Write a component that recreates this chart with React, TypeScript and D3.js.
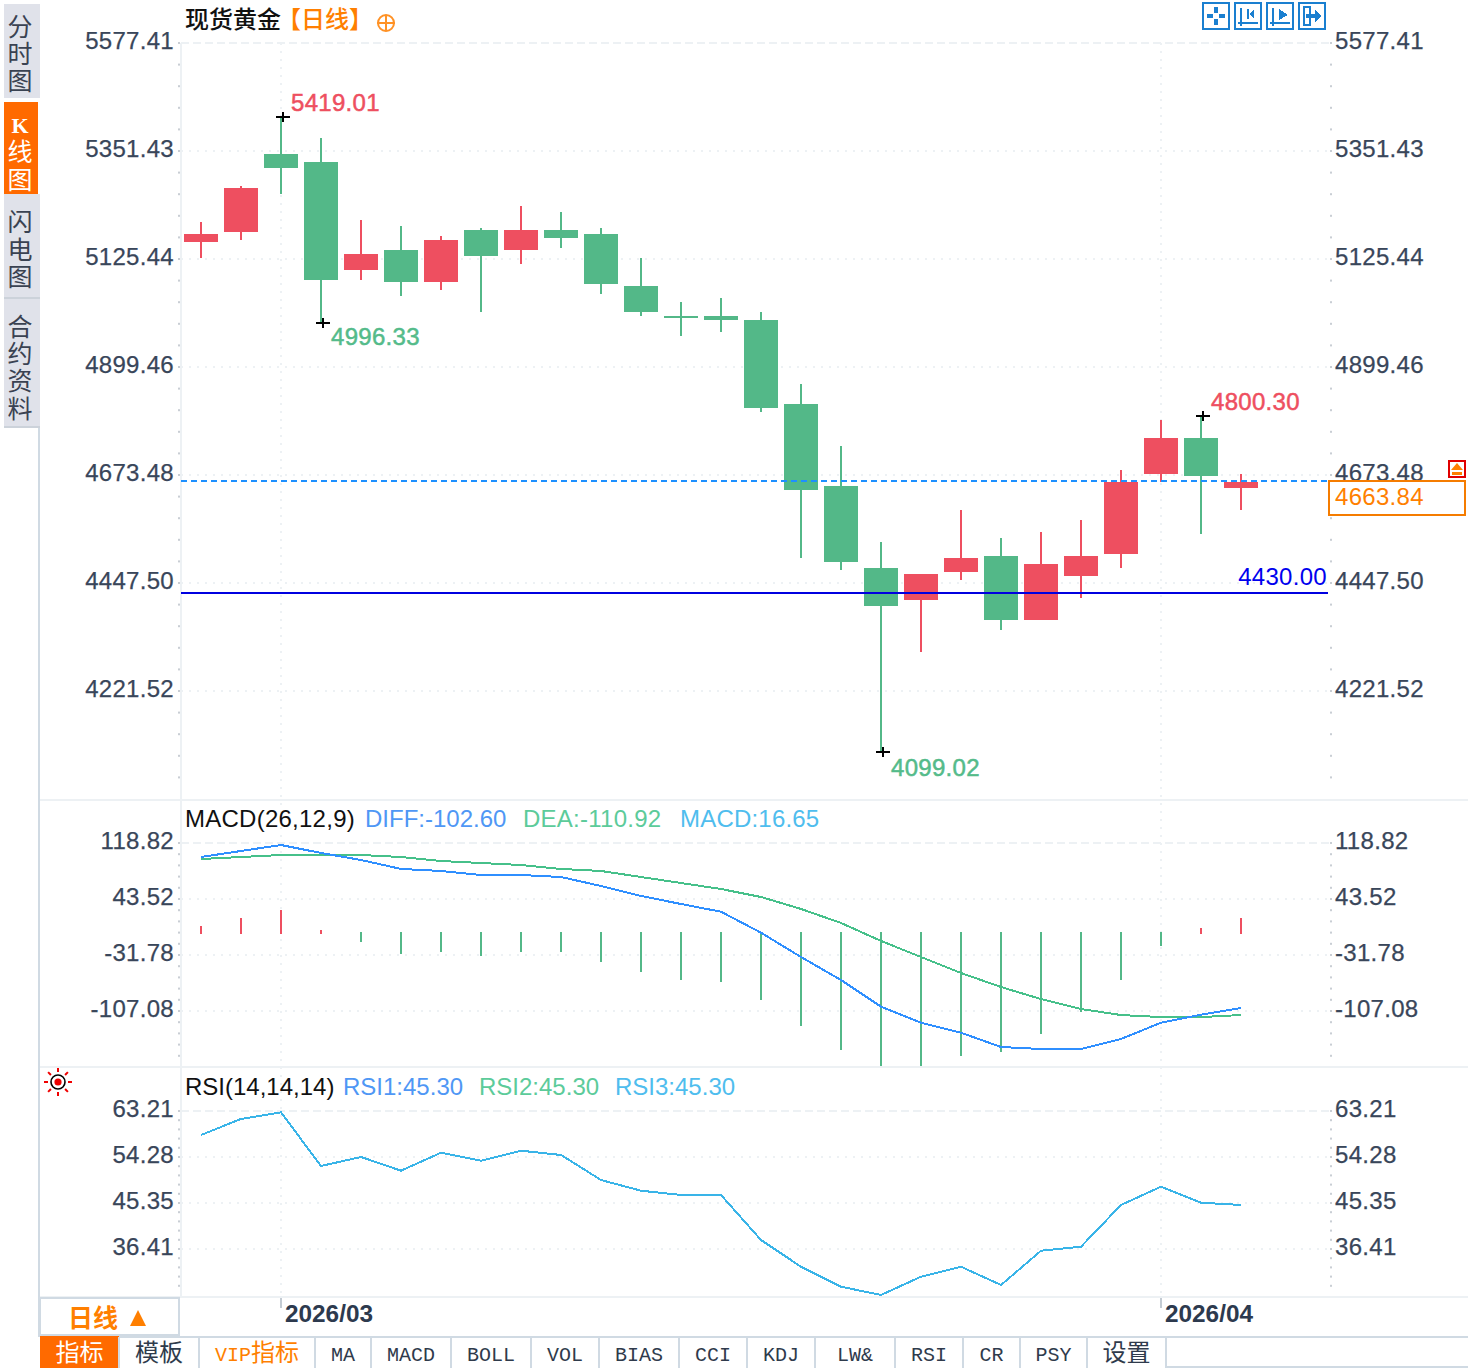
import React from "react";
import * as d3 from "d3";

const W = 1468, H = 1368;
const SANS = "'Liberation Sans', Arial, sans-serif";
const CJK = "'Noto Sans CJK SC', sans-serif";
const MONO = "'Liberation Mono', monospace";

const opens = [5161.02,5181.95,5345.15,5328.41,5102.44,5144.28,5077.33,5186.13,5144.28,5186.13,5177.76,5068.96,5006.18,5006.18,4997.82,4822.05,4650.48,4478.90,4411.94,4470.53,4504.01,4370.10,4462.16,4508.19,4675.59,4750.91,4646.29];
const closes = [5177.76,5274.01,5315.86,5081.51,5135.91,5077.33,5165.21,5131.73,5186.13,5169.39,5073.14,5014.55,5002.00,4997.82,4813.68,4642.11,4491.45,4399.39,4466.35,4499.82,4370.10,4487.27,4504.01,4658.85,4750.91,4671.40,4658.85];
const highs = [5202.87,5278.20,5422.57,5378.63,5207.06,5194.50,5173.58,5190.32,5236.35,5223.79,5190.32,5127.54,5035.48,5043.85,5014.55,4863.90,4734.17,4533.30,4466.35,4600.26,4541.67,4554.23,4579.34,4683.96,4788.58,4796.94,4675.59];
const lows = [5127.54,5165.21,5261.46,4991.54,5081.51,5048.03,5060.59,5014.55,5114.99,5148.47,5052.22,5006.18,4964.34,4972.71,4805.31,4499.82,4474.72,4093.90,4303.14,4453.79,4349.17,4370.10,4416.13,4478.90,4658.85,4550.04,4600.26];

const diffValues = [100.0,108.1,116.1,105.4,96.0,83.9,81.2,75.8,75.8,73.1,61.0,47.6,36.8,26.4,-1.8,-34.5,-65.4,-101.3,-122.8,-136.3,-155.5,-158.2,-158.2,-144.7,-122.8,-112.1,-103.0];
const deaValues = [97.3,100.0,102.7,102.7,102.7,100.0,94.6,91.9,89.2,83.9,81.2,73.1,65.0,57.0,46.2,30.1,11.3,-12.9,-34.5,-56.0,-74.8,-91.0,-104.4,-112.5,-115.2,-115.2,-112.5];
const histValues = [7.3,18.0,28.8,1.9,-14.3,-30.4,-27.7,-33.1,-27.7,-27.7,-41.1,-54.6,-65.3,-68.0,-92.2,-127.2,-159.5,-181.0,-181.0,-167.5,-162.2,-138.0,-108.4,-65.3,-19.6,4.6,18.0];
const rsiValues = [58.55,61.66,62.96,52.53,54.28,51.62,55.11,53.56,55.5,54.67,49.81,47.73,46.9,46.9,38.16,32.97,29.09,27.48,31.03,32.97,29.42,36.08,36.86,44.96,48.51,45.4,44.96];

const priceTicks = ["5577.41","5351.43","5125.44","4899.46","4673.48","4447.50","4221.52"];
const macdTicks = ["118.82","43.52","-31.78","-107.08"];
const rsiTicks = ["63.21","54.28","45.35","36.41"];

const lastPrice = 4663.84;
const refPrice = 4430.0;
const extremes = [
  { text: "5419.01", idx: 2, kind: "high", dx: 10, dy: -6, color: "#ee4f60" },
  { text: "4996.33", idx: 3, kind: "low", dx: 10, dy: 22, color: "#54bb8a" },
  { text: "4099.02", idx: 17, kind: "low", dx: 10, dy: 24, color: "#54bb8a" },
  { text: "4800.30", idx: 25, kind: "high", dx: 10, dy: -6, color: "#ee4f60" },
];
const sideTabs = [
  { chars: ["分", "时", "图"], ys: [27, 54, 81], active: false },
  { chars: ["K", "线", "图"], ys: [124, 152, 180], active: true },
  { chars: ["闪", "电", "图"], ys: [222, 250, 277], active: false },
  { chars: ["合", "约", "资", "料"], ys: [327, 354, 381, 409], active: false },
];
const sideTabRanges = [[4, 98], [102, 194], [194, 298], [298, 428]];
const bottomTabs = ["指标","模板","VIP指标","MA","MACD","BOLL","VOL","BIAS","CCI","KDJ","LW&","RSI","CR","PSY","设置"];
const bottomSeps = [40,119,199,315,371,451,531,599,679,747,815,895,963,1020,1087,1166];
const dateLabels = [{ text: "2026/03", idx: 2 }, { text: "2026/04", idx: 24 }];

const RED = "#ee4f60", GREEN = "#53b888", GRID = "#edf1f4", AXIS = "#39465a", LINE = "#d0dae3", ORANGE = "#ff7f00";

const x = d3.scaleLinear().domain([0, opens.length - 1]).range([201, 1241]);
const py = d3.scaleLinear().domain([5577.41, 4221.52]).range([43, 691]);
const my = d3.scaleLinear().domain([118.82, -107.08]).range([843, 1011]);
const ry = d3.scaleLinear().domain([63.21, 36.41]).range([1111, 1249]);

const mLine = d3.line<number>().x((_, i) => x(i)).y((d) => my(d));
const rLine = d3.line<number>().x((_, i) => x(i)).y((d) => ry(d));

function TickSet({ labels, y, minorStep, minorEnd }: { labels: string[]; y: d3.ScaleLinear<number, number>; minorStep: number; minorEnd: number }) {
  const vals = labels.map(Number);
  const top = y(vals[0]);
  const minors = d3.range(top, minorEnd, minorStep);
  return (
    <g>
      {vals.map((v, i) => (
        <line key={i} x1={181} x2={1330} y1={y(v)} y2={y(v)} stroke={GRID} strokeWidth={2}
          strokeDasharray={i === 0 ? "8 4" : "2 6"} />
      ))}
      {minors.map((m, i) => (
        <g key={i}>
          <rect x={178} y={m - 1} width={2} height={2} fill="#c9ced4" />
          <rect x={1330} y={m - 1} width={2} height={2} fill="#c9ced4" />
        </g>
      ))}
      {labels.map((t, i) => (
        <g key={t} fontFamily={SANS} fontSize={24} fill={AXIS} stroke={AXIS} strokeWidth={0.25} letterSpacing={0.3}>
          <text x={174} y={y(vals[i]) + 6} textAnchor="end">{t}</text>
          <text x={1335} y={y(vals[i]) + 6}>{t}</text>
        </g>
      ))}
    </g>
  );
}

function Plus({ cx, cy }: { cx: number; cy: number }) {
  return (
    <g stroke="#000" strokeWidth={2} shapeRendering="crispEdges">
      <line x1={cx - 7} x2={cx + 7} y1={cy} y2={cy} />
      <line x1={cx} x2={cx} y1={cy - 5} y2={cy + 5} />
    </g>
  );
}

function TopIcons() {
  const B = "#1a7fd0";
  const xs = [1203, 1235, 1267, 1299];
  return (
    <g shapeRendering="crispEdges">
      {xs.map((v) => (
        <rect key={v} x={v} y={3} width={26} height={26} fill="#fff" stroke={B} strokeWidth={2} />
      ))}
      <g fill={B}>
        <rect x={1214} y={7} width={4} height={6} /><rect x={1214} y={19} width={4} height={6} />
        <rect x={1207} y={14} width={6} height={4} /><rect x={1219} y={14} width={6} height={4} />
        <rect x={1240} y={8} width={2} height={18} /><rect x={1238} y={22} width={20} height={2} />
        <rect x={1247} y={9} width={2} height={10} /><polygon points="1254,9 1249,14 1254,19" />
        <rect x={1272} y={8} width={2} height={18} /><rect x={1270} y={22} width={20} height={2} />
        <polygon points="1279,9 1288,15 1279,20" />
        <rect x={1303} y={6} width={2} height={20} /><rect x={1303} y={6} width={7} height={2} /><rect x={1303} y={24} width={7} height={2} /><rect x={1309} y={6} width={2} height={20} />
        <rect x={1306} y={14} width={12} height={4} /><polygon points="1315,10 1322,16 1315,22" />
      </g>
    </g>
  );
}

export default function App() {
  return (
    <svg width={W} height={H} viewBox={`0 0 ${W} ${H}`} style={{ position: "absolute", left: 0, top: 0, background: "#fff" }}>
      {/* side tabs */}
      {sideTabs.map((t, i) => (
        <g key={i}>
          <rect x={4} y={sideTabRanges[i][0]} width={t.active ? 34 : 36} height={sideTabRanges[i][1] - sideTabRanges[i][0]} fill={t.active ? "#ff6a00" : "#e0e2ea"} />
          {t.chars.map((c, j) => (
            <text key={j} x={20} y={t.ys[j] + 9} textAnchor="middle" fontSize={c === "K" ? 22 : 25}
              fontFamily={c === "K" ? "'Liberation Serif', serif" : CJK} fontWeight={c === "K" ? 700 : 400} fill={t.active ? "#fff" : "#3a4252"}>{c}</text>
          ))}
        </g>
      ))}
      <rect x={4} y={297} width={36} height={2} fill="#ccd2da" />
      <rect x={4} y={426} width={36} height={2} fill="#ccd2da" />

      {/* frame */}
      <line x1={39} x2={39} y1={428} y2={1337} stroke={LINE} strokeWidth={2} />
      <line x1={181} x2={181} y1={43} y2={1297} stroke={GRID} strokeWidth={2} />
      {[800, 1067, 1297].map((v) => (
        <line key={v} x1={40} x2={W} y1={v} y2={v} stroke={GRID} strokeWidth={2} />
      ))}
      {dateLabels.map((d) => (
        <line key={d.text} x1={x(d.idx)} x2={x(d.idx)} y1={43} y2={1297} stroke={GRID} strokeWidth={2} strokeDasharray="2 6" />
      ))}

      <TickSet labels={priceTicks} y={py} minorStep={21.6} minorEnd={795} />
      <TickSet labels={macdTicks} y={my} minorStep={11.2} minorEnd={1062} />
      <TickSet labels={rsiTicks} y={ry} minorStep={9.2} minorEnd={1292} />

      {/* title */}
      <text x={185} y={28} fontFamily={CJK} fontSize={24} fill="#111" fontWeight={500}>现货黄金</text>
      <text x={277} y={28} fontFamily={CJK} fontSize={24} fill={ORANGE} fontWeight={500}>【日线】</text>
      <g fill="none" stroke={ORANGE} strokeWidth={2} opacity={0.85}>
        <circle cx={386} cy={23} r={8} />
        <line x1={377} x2={395} y1={23} y2={23} />
        <line x1={386} x2={386} y1={15} y2={31} />
      </g>
      <TopIcons />

      {/* candles */}
      {opens.map((o, i) => {
        const c = closes[i];
        const col = c > o ? RED : GREEN;
        const top = py(Math.max(o, c));
        const bot = py(Math.min(o, c));
        return (
          <g key={i} shapeRendering="crispEdges">
            <rect x={x(i) - 1} y={py(highs[i])} width={2} height={py(lows[i]) - py(highs[i])} fill={col} />
            <rect x={x(i) - 17} y={top} width={34} height={bot - top} fill={col} />
          </g>
        );
      })}

      {/* extremes */}
      {extremes.map((e) => {
        const val = e.kind === "high" ? highs[e.idx] : lows[e.idx];
        return (
          <g key={e.text}>
            <Plus cx={x(e.idx) + 2} cy={py(val)} />
            <text x={x(e.idx) + e.dx} y={py(val) + e.dy} fontFamily={SANS} fontSize={24} fill={e.color} stroke={e.color} strokeWidth={0.5} letterSpacing={0.3}>{e.text}</text>
          </g>
        );
      })}

      {/* price lines */}
      <line x1={181} x2={1329} y1={py(lastPrice) + 1} y2={py(lastPrice) + 1} stroke="#1e90ff" strokeWidth={2} strokeDasharray="6 4" shapeRendering="crispEdges" />
      <line x1={181} x2={1328} y1={py(refPrice) + 1.4} y2={py(refPrice) + 1.4} stroke="#0000e0" strokeWidth={2} shapeRendering="crispEdges" />
      <text x={1327} y={585} textAnchor="end" fontFamily={SANS} fontSize={24} fill="#0000ee" letterSpacing={0.3}>{refPrice.toFixed(2)}</text>
      <rect x={1329} y={481} width={136} height={34} fill="#fff" stroke="#f57c00" strokeWidth={2} shapeRendering="crispEdges" />
      <text x={1335} y={505} fontFamily={SANS} fontSize={24} fill={ORANGE} letterSpacing={0.3}>{lastPrice.toFixed(2)}</text>
      <rect x={1449} y={461} width={16} height={16} fill="#fff" stroke="#e00000" strokeWidth={2} shapeRendering="crispEdges" />
      <polygon points="1457,463 1463,470 1451,470" fill={ORANGE} />
      <rect x={1452} y={472} width={10} height={3} fill={ORANGE} />

      {/* MACD */}
      <text y={827} fontFamily={SANS} fontSize={24}>
        <tspan x={185} fill="#111" letterSpacing={0.25}>MACD(26,12,9)</tspan>
        <tspan x={365} fill="#4f97f5">DIFF:-102.60</tspan>
        <tspan x={523} fill="#5ccb9a" letterSpacing={0.25}>DEA:-110.92</tspan>
        <tspan x={680} fill="#4fbdee" letterSpacing={0.2}>MACD:16.65</tspan>
      </text>
      {histValues.map((v, i) => (
        <rect key={i} x={x(i) - 1} width={2} shapeRendering="crispEdges"
          y={v > 0 ? my(v) : my(0) + 0.6}
          height={v > 0 ? my(0) + 2.6 - my(v) : my(v) - my(0) - 0.6}
          fill={v > 0 ? RED : GREEN} />
      ))}
      <path d={mLine(deaValues) || ""} fill="none" stroke="#46c08a" strokeWidth={2} shapeRendering="crispEdges" />
      <path d={mLine(diffValues) || ""} fill="none" stroke="#2f8fff" strokeWidth={2} shapeRendering="crispEdges" />

      {/* RSI */}
      <text y={1095} fontFamily={SANS} fontSize={24}>
        <tspan x={185} fill="#111">RSI(14,14,14)</tspan>
        <tspan x={343} fill="#4f97f5">RSI1:45.30</tspan>
        <tspan x={479} fill="#5ccb9a">RSI2:45.30</tspan>
        <tspan x={615} fill="#4fbdee">RSI3:45.30</tspan>
      </text>
      <path d={rLine(rsiValues) || ""} fill="none" stroke="#39b4e8" strokeWidth={2} shapeRendering="crispEdges" />

      {/* sun icon */}
      <g>
        {d3.range(8).map((k) => {
          const a = (k * Math.PI) / 4;
          return <line key={k} x1={58 + 10 * Math.cos(a)} y1={1082 + 10 * Math.sin(a)} x2={58 + 14 * Math.cos(a)} y2={1082 + 14 * Math.sin(a)} stroke="#f00000" strokeWidth={2} />;
        })}
        <circle cx={58} cy={1082} r={7} fill="#fff" stroke="#000" strokeWidth={1.6} />
        <circle cx={58} cy={1082} r={3.6} fill="#ee0000" />
      </g>

      {/* date axis */}
      {dateLabels.map((d) => (
        <g key={d.text}>
          <line x1={x(d.idx)} x2={x(d.idx)} y1={1298} y2={1308} stroke="#c3cbd3" strokeWidth={2} />
          <text x={x(d.idx) + 4} y={1321.5} fontFamily={SANS} fontSize={24} fontWeight={700} fill="#2d3a4e" textLength={88} lengthAdjust="spacingAndGlyphs">{d.text}</text>
        </g>
      ))}

      {/* period box */}
      <rect x={40} y={1298} width={139} height={37} fill="#fff" stroke={LINE} strokeWidth={2} />
      <text x={68} y={1327} fontFamily={CJK} fontSize={25} fontWeight={700} fill={ORANGE}>日线</text>
      <polygon points="138,1310 146,1326 130,1326" fill={ORANGE} />

      {/* bottom tabs */}
      <line x1={40} x2={W} y1={1337} y2={1337} stroke={LINE} strokeWidth={2} />
      <line x1={1166} x2={W} y1={1367} y2={1367} stroke={LINE} strokeWidth={2} />
      <rect x={40} y={1336} width={79} height={32} fill="#ff6a00" />
      {bottomTabs.map((t, i) => {
        const cx = (bottomSeps[i] + bottomSeps[i + 1]) / 2;
        const cjkOnly = /^[\u4e00-\u9fff]+$/.test(t);
        const vip = t.startsWith("VIP");
        return (
          <g key={t}>
            <line x1={bottomSeps[i + 1]} x2={bottomSeps[i + 1]} y1={1337} y2={H} stroke={LINE} strokeWidth={2} />
            {vip ? (
              <text x={cx} y={1361} textAnchor="middle" fontFamily={`'Liberation Mono', 'Noto Sans CJK SC'`} fill={ORANGE}>
                <tspan fontSize={20}>{t.slice(0, 3)}</tspan>
                <tspan fontSize={24}>{t.slice(3)}</tspan>
              </text>
            ) : (
              <text x={cx} y={1361} textAnchor="middle" fontFamily={cjkOnly ? CJK : MONO}
                fontSize={cjkOnly ? 24 : 20} fill={i === 0 ? "#fff" : "#2f3b4c"}>{t}</text>
            )}
          </g>
        );
      })}
    </svg>
  );
}
